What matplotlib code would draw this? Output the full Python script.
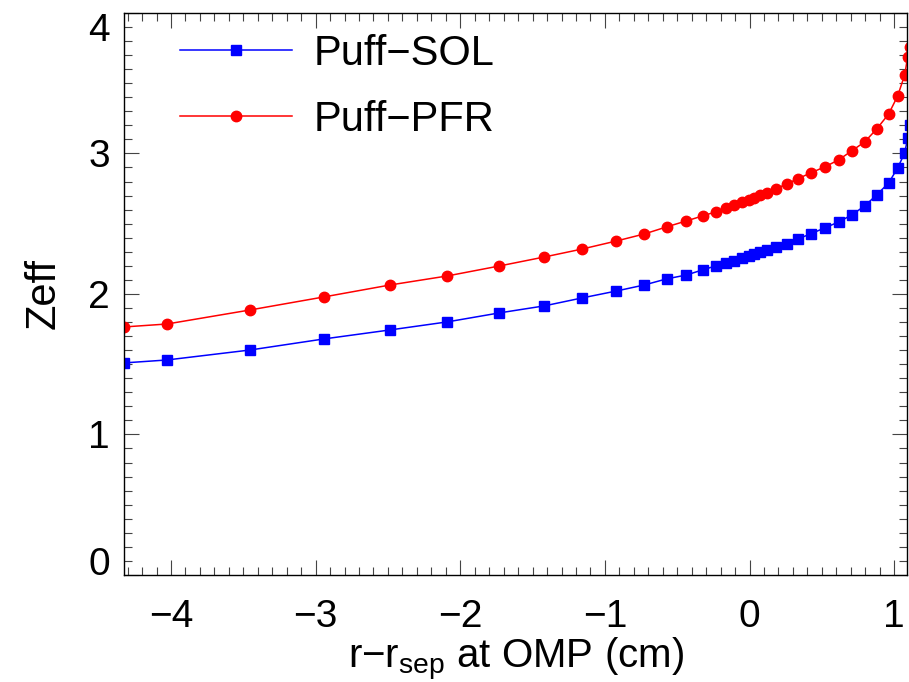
import numpy as np
import matplotlib
matplotlib.use('Agg')
import matplotlib.pyplot as plt
from matplotlib.ticker import MultipleLocator

plt.rcParams['font.family'] = ['Liberation Sans', 'DejaVu Sans']
plt.rcParams['mathtext.fontset'] = 'custom'
plt.rcParams['mathtext.rm'] = 'Liberation Sans'
plt.rcParams['mathtext.it'] = 'Liberation Sans'

# radial position at outer midplane (cm)
r_omp = [-4.325, -4.028, -3.453, -2.941, -2.484, -2.090, -1.730, -1.419,
         -1.156, -0.920, -0.727, -0.574, -0.436, -0.325, -0.235, -0.166,
         -0.104, -0.055, -0.007, 0.028, 0.069, 0.118, 0.180, 0.256,
         0.332, 0.422, 0.519, 0.616, 0.706, 0.796, 0.879, 0.962,
         1.024, 1.073, 1.093, 1.110]

zeff_sol = [1.509, 1.530, 1.601, 1.680, 1.744, 1.801, 1.865, 1.915,
            1.972, 2.021, 2.064, 2.107, 2.135, 2.171, 2.199, 2.221,
            2.235, 2.256, 2.270, 2.285, 2.299, 2.313, 2.335, 2.356,
            2.391, 2.427, 2.470, 2.512, 2.562, 2.626, 2.705, 2.790,
            2.897, 3.004, 3.110, 3.203]

zeff_pfr = [1.765, 1.786, 1.886, 1.979, 2.064, 2.128, 2.199, 2.263,
            2.320, 2.377, 2.427, 2.477, 2.520, 2.555, 2.584, 2.612,
            2.633, 2.655, 2.669, 2.683, 2.705, 2.719, 2.747, 2.783,
            2.819, 2.861, 2.904, 2.954, 3.018, 3.082, 3.174, 3.281,
            3.409, 3.559, 3.687, 3.758]

fig = plt.figure(figsize=(9.09, 6.82), dpi=100)
ax = fig.add_axes([0.1364, 0.157, 0.8616, 0.824])

ax.plot(r_omp, zeff_sol, color='blue', lw=1.1, marker='s', ms=6.8,
        label='Puff\u2212SOL')
ax.plot(r_omp, zeff_pfr, color='red', lw=1.1, marker='o', ms=7.5,
        label='Puff\u2212PFR')

ax.set_xlim(-4.325, 1.09)
ax.set_ylim(0, 4)
ax.xaxis.set_major_locator(MultipleLocator(1))
ax.xaxis.set_minor_locator(MultipleLocator(0.1))
ax.yaxis.set_major_locator(MultipleLocator(1))
ax.yaxis.set_minor_locator(MultipleLocator(0.1))

ax.tick_params(which='both', direction='in', top=True, right=True,
               color='#444444', width=0.8, labelsize=28)
ax.tick_params(which='major', length=11)
ax.tick_params(which='minor', length=5.5)
ax.tick_params(axis='x', pad=17)
ax.tick_params(axis='y', pad=10)
for s in ax.spines.values():
    s.set_linewidth(1.0)

ax.set_xlabel('r\u2212r$_{\\mathrm{sep}}$ at OMP (cm)', fontsize=29, labelpad=1)
ax.set_ylabel('Zeff', fontsize=30, labelpad=18)

ax.legend(loc='upper left', frameon=False, fontsize=30, handlelength=2.7,
          handletextpad=0.5, markerscale=1.0, labelspacing=0.62,
          borderpad=0, borderaxespad=0, bbox_to_anchor=(0.0715, 0.963))

# end labels sit inside the axis range, like the original
fig.canvas.draw()
for t in ax.yaxis.get_major_ticks():
    if abs(t.get_loc() - 0) < 1e-6:
        t.label1.set_va('baseline')
    elif abs(t.get_loc() - 4) < 1e-6:
        t.label1.set_va('top')

fig.savefig('out.png', dpi=100)
